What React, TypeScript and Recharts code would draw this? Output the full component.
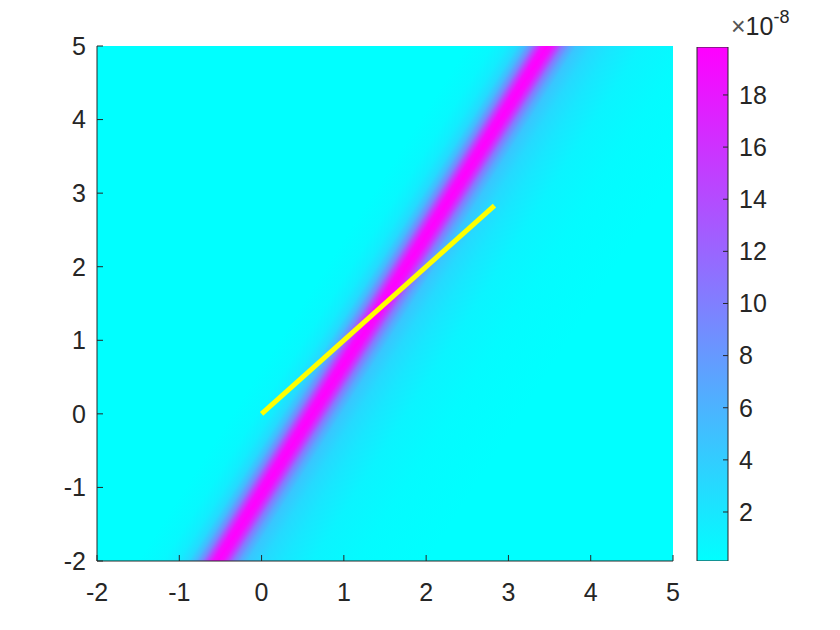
import {
  Bar,
  BarChart,
  ComposedChart,
  Label,
  Line,
  ReferenceArea,
  XAxis,
  YAxis,
} from "recharts";

// axes (both run -2..5)
const axisTicks = [-2, -1, 0, 1, 2, 3, 4, 5];
const axisDomain = [-2, 5];

// yellow path
const pathX = [0, 2.83];
const pathY = [0, 2.83];

// ridge centre line of the field: x where it crosses y = -2 and y = 5
const ridgeX = [-0.53, 3.47];

// cross-section of the field, read horizontally (x offset from ridge centre), values x1e-8
const profileOffset = [-0.97, -0.67, -0.49, -0.36, -0.27, -0.19, -0.12, -0.06, 0, 0.06, 0.12, 0.19, 0.27, 0.36, 0.55, 0.79, 1.15, 1.7, 2.55];
const profileValue = [0.12, 0.6, 1.5, 3, 5.5, 9.5, 15, 18.8, 19.84, 18.8, 15.5, 10.5, 7, 4.5, 3, 2, 1, 0.4, 0.12];

// colour bar
const colorLimits = [0.12, 19.84];
const colorTicks = [2, 4, 6, 8, 10, 12, 14, 16, 18];

const FONT = "'Liberation Sans', Arial, Helvetica, sans-serif";
const INK = "#262626";

const cool = (v: number) => {
  const t = Math.min(1, Math.max(0, (v - colorLimits[0]) / (colorLimits[1] - colorLimits[0])));
  return `rgb(${Math.round(255 * t)}, ${Math.round(255 * (1 - t))}, 255)`;
};

const path = pathX.map((x, i) => ({ x, y: pathY[i] }));

// gradient vector in the plot's bounding box, perpendicular to the ridge
const span = axisDomain[1] - axisDomain[0];
const u0 = (ridgeX[0] - axisDomain[0]) / span;
const du = (ridgeX[1] - ridgeX[0]) / span;
const n2 = 1 + du * du;
const dMin = profileOffset[0];
const dMax = profileOffset[profileOffset.length - 1];
const a = dMin / (span * n2);
const b = dMax / (span * n2);
const grad = {
  x1: u0 + a,
  y1: 1 + a * du,
  x2: u0 + b,
  y2: 1 + b * du,
};

const ExpLabel = (props: any) => {
  const vb = props.viewBox || { x: 728, y: 47 };
  return (
    <text x={vb.x + 3} y={vb.y - 12} fill={INK} fontFamily={FONT} fontSize={25}>
      <tspan fill="#555" fontWeight={300}>×</tspan>
      <tspan>10</tspan>
      <tspan dy={-12} fontSize={18}>-8</tspan>
    </text>
  );
};

export default function App() {
  return (
    <div style={{ position: "fixed", left: 0, top: 0, width: 840, height: 630, background: "#fff" }}>
      <div style={{ position: "absolute", left: 0, top: 0 }}>
        <ComposedChart width={840} height={630} data={path} margin={{ top: 46, right: 167, bottom: 29, left: 37 }}>
          <defs>
            <linearGradient id="field" x1={grad.x1} y1={grad.y1} x2={grad.x2} y2={grad.y2}>
              {profileOffset.map((d, i) => (
                <stop key={i} offset={(d - dMin) / (dMax - dMin)} stopColor={cool(profileValue[i])} />
              ))}
            </linearGradient>
          </defs>
          <XAxis
            dataKey="x"
            type="number"
            domain={axisDomain}
            ticks={axisTicks}
            allowDataOverflow
            height={40}
            tickSize={-6}
            tickMargin={28}
            axisLine={{ stroke: INK }}
            tickLine={{ stroke: INK }}
            tick={{ fill: INK, fontSize: 25, fontFamily: FONT }}
          />
          <YAxis
            type="number"
            domain={axisDomain}
            ticks={axisTicks}
            allowDataOverflow
            width={60}
            tickSize={-6}
            tickMargin={17}
            axisLine={{ stroke: INK }}
            tickLine={{ stroke: INK }}
            tick={{ fill: INK, fontSize: 25, fontFamily: FONT }}
          />
          <ReferenceArea
            x1={axisDomain[0]}
            x2={axisDomain[1]}
            y1={axisDomain[0]}
            y2={axisDomain[1]}
            fill="url(#field)"
            fillOpacity={1}
            stroke="none"
          />
          <Line
            dataKey="y"
            stroke="#ffff00"
            strokeWidth={5}
            dot={false}
            activeDot={false}
            isAnimationActive={false}
          />
        </ComposedChart>
      </div>
      <div style={{ position: "absolute", left: 0, top: 0 }}>
        <BarChart
          width={840}
          height={630}
          data={[{ k: "c", r: colorLimits }]}
          margin={{ top: 47, right: 52, bottom: 69, left: 697 }}
          barCategoryGap={0}
        >
          <defs>
            <linearGradient id="coolbar" x1={0} y1={0} x2={0} y2={1}>
              <stop offset={0} stopColor={cool(colorLimits[1])} />
              <stop offset={1} stopColor={cool(colorLimits[0])} />
            </linearGradient>
          </defs>
          <XAxis dataKey="k" hide />
          <YAxis
            orientation="right"
            type="number"
            domain={colorLimits}
            ticks={colorTicks}
            allowDataOverflow
            width={60}
            tickSize={-5}
            tickMargin={16}
            axisLine={false}
            tickLine={{ stroke: INK }}
            tick={{ fill: INK, fontSize: 25, fontFamily: FONT }}
          >
            <Label content={ExpLabel} />
          </YAxis>
          <Bar dataKey="r" fill="url(#coolbar)" stroke={INK} strokeWidth={1} isAnimationActive={false} />
        </BarChart>
      </div>
    </div>
  );
}
